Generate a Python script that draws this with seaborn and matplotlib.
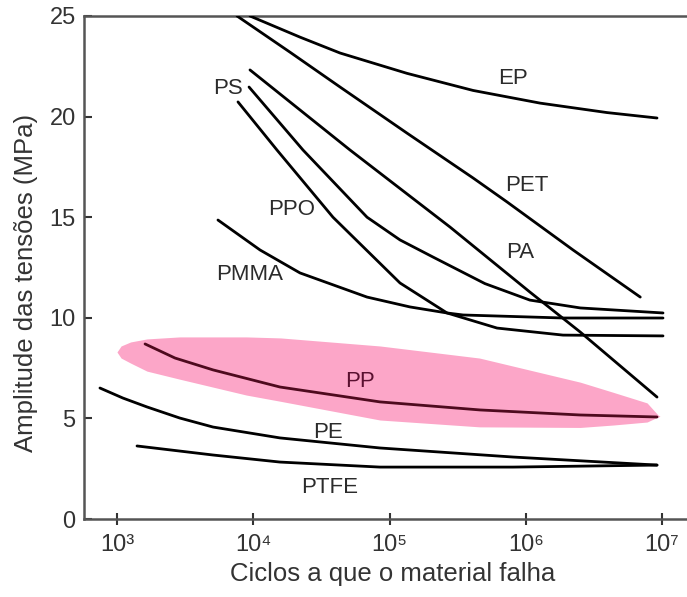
import numpy as np
import pandas as pd
import matplotlib
matplotlib.use("Agg")
import matplotlib.pyplot as plt
import seaborn as sns

# ---- data (log10 of cycles, stress amplitude in MPa) ----
ep_logN = [3.976, 4.343, 4.637, 5.128, 5.613, 6.105, 6.596, 6.963]
ep_S = [25.0, 23.95, 23.16, 22.15, 21.3, 20.67, 20.2, 19.93]

pet_logN = [3.881, 4.27, 4.637, 5.128, 5.613, 5.862, 6.347, 6.84]
pet_S = [25.0, 23.2, 21.47, 19.18, 16.95, 15.76, 13.37, 11.03]

pa_logN = [3.976, 4.71, 5.444, 6.03, 6.40, 6.963]
pa_S = [22.32, 18.34, 14.51, 11.28, 9.29, 6.06]

ps_logN = [3.969, 4.365, 4.835, 5.077, 5.319, 5.70, 6.03, 6.40, 7.007]
ps_S = [21.47, 18.34, 15.0, 13.87, 13.02, 11.7, 10.88, 10.49, 10.24]

ppo_logN = [3.888, 4.174, 4.585, 5.077, 5.422, 5.789, 6.273, 7.007]
ppo_S = [20.73, 18.34, 15.0, 11.73, 10.24, 9.49, 9.14, 9.10]

pmma_logN = [3.741, 4.05, 4.343, 4.835, 5.15, 5.422, 5.54, 6.273, 7.007]
pmma_S = [14.86, 13.37, 12.23, 11.03, 10.54, 10.24, 10.14, 9.99, 9.99]

pp_logN = [3.206, 3.426, 3.705, 4.196, 4.93, 5.664, 6.398, 6.963]
pp_S = [8.70, 8.0, 7.41, 6.56, 5.82, 5.42, 5.17, 5.07]

pe_logN = [2.875, 3.044, 3.22, 3.46, 3.705, 4.196, 4.93, 5.906, 6.963]
pe_S = [6.51, 6.01, 5.57, 5.02, 4.57, 4.03, 3.53, 3.08, 2.68]

ptfe_logN = [3.147, 3.705, 4.196, 4.93, 5.906, 6.963]
ptfe_S = [3.63, 3.18, 2.83, 2.58, 2.58, 2.68]

# highlighted PP band
band_logN = [3.00, 3.03, 3.10, 3.22, 3.46, 3.95, 4.20, 4.93, 5.66, 6.40, 6.64, 6.89, 6.97, 6.985]
band_upper = [8.3, 8.6, 8.8, 8.95, 9.05, 9.05, 9.0, 8.6, 8.0, 6.8, 6.3, 5.77, 5.17, 5.1]
band_lower = [8.3, 8.0, 7.75, 7.35, 6.95, 6.16, 5.85, 4.92, 4.58, 4.55, 4.67, 4.82, 5.07, 5.1]

materials = ["EP", "PET", "PA", "PS", "PPO", "PMMA", "PP", "PE", "PTFE"]
label_logN = [5.906, 6.01, 5.96, 3.815, 4.284, 3.976, 4.78, 4.549, 4.563]
label_S = [21.9, 16.6, 13.27, 21.42, 15.36, 12.13, 6.81, 4.32, 1.59]

x_tick_logN = [3, 4, 5, 6, 7]
x_tick_labels = ["10³", "10⁴", "10⁵", "10⁶", "10⁷"]
y_ticks = [0, 5, 10, 15, 20, 25]

series = {
    "EP": (ep_logN, ep_S), "PET": (pet_logN, pet_S), "PA": (pa_logN, pa_S),
    "PS": (ps_logN, ps_S), "PPO": (ppo_logN, ppo_S), "PMMA": (pmma_logN, pmma_S),
    "PP": (pp_logN, pp_S), "PE": (pe_logN, pe_S), "PTFE": (ptfe_logN, ptfe_S),
}

rows = []
for name, (lx, s) in series.items():
    for a, b in zip(lx, s):
        rows.append({"material": name, "N": 10 ** a, "S": b})
df = pd.DataFrame(rows)

sns.set_style("white")
plt.rcParams["font.family"] = ["Liberation Sans", "DejaVu Sans"]

fig = plt.figure(figsize=(6.87, 5.97), dpi=100)
ax = fig.add_axes([84 / 687, 1 - 519 / 597, (687 - 84) / 687, (519 - 16) / 597])

ax.fill_between([10 ** v for v in band_logN], band_lower, band_upper,
                color="#fca6c8", linewidth=0, zorder=1)

palette = {m: "black" for m in materials}
palette["PP"] = "#4e0a1e"
sns.lineplot(data=df, x="N", y="S", hue="material", palette=palette,
             sort=False, estimator=None, units="material", linewidth=2.0,
             legend=False, ax=ax, zorder=3)
for line in ax.get_lines():
    line.set_solid_joinstyle("round")
    line.set_solid_capstyle("round")

for m, lx, ly in zip(materials, label_logN, label_S):
    ax.text(10 ** lx, ly, m, ha="center", va="center", fontsize=16,
            color="#5a1030" if m == "PP" else "#2b2b2b", zorder=4)

ax.set_xscale("log")
ax.set_xlim(10 ** 2.758, 10 ** 7.183)
ax.set_ylim(0, 25)
ax.set_xticks([10 ** v for v in x_tick_logN])
ax.set_xticklabels(x_tick_labels)
ax.xaxis.set_minor_locator(matplotlib.ticker.NullLocator())
ax.set_yticks(y_ticks)

ax.tick_params(axis="y", direction="in", length=6, width=1.5, pad=6,
               labelsize=17, colors="#333333", left=True)
ax.tick_params(axis="x", direction="inout", length=8, width=1.5, pad=7,
               labelsize=17, colors="#333333", bottom=True)

for side in ["left", "top", "bottom"]:
    ax.spines[side].set_visible(True)
    ax.spines[side].set_color("#555555")
    ax.spines[side].set_linewidth(1.8)
ax.spines["right"].set_visible(False)

ax.set_ylabel("Amplitude das tensões (MPa)", fontsize=18.5, color="#333333")
ax.set_xlabel("Ciclos a que o material falha", fontsize=18.5, color="#333333")
ax.yaxis.set_label_coords(-0.077, 0.47)
ax.xaxis.set_label_coords(0.512, -0.085)

fig.savefig("out.png", dpi=100)
